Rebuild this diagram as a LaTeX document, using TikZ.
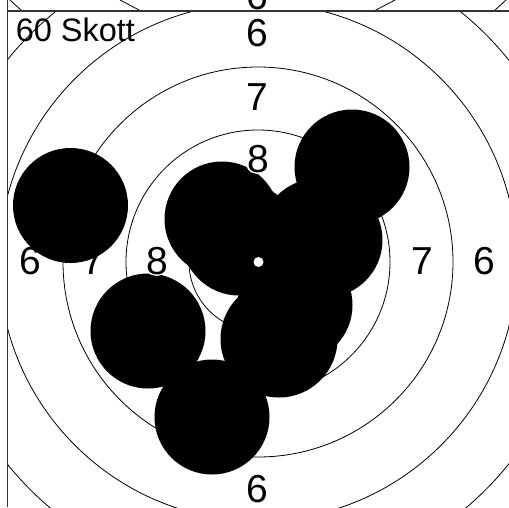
\documentclass[tikz,border=0pt]{standalone}
\usepackage{fontspec}
\setmainfont{Liberation Sans}
\begin{document}
\begin{tikzpicture}[x=1pt,y=-1pt,
  ring/.style={draw=black, line width=0.8pt},
  shot/.style={fill=black},
  lbl/.style={inner sep=0pt, font=\fontsize{39}{39}\selectfont},
  border/.style={draw=black!80, line width=1.6pt}]
\useasboundingbox (0,0) rectangle (509,507);
\fill[white] (0,0) rectangle (509,507);
% strip of the previous target
\begin{scope}
  \clip (0,0) rectangle (509,11);
  \draw[ring] (10,0) -- (22,11);
  \draw[ring] (120,0) -- (141,11);
  \draw[ring] (395,0) -- (374,11);
  \draw[ring] (506,0) -- (494,11);
  \node[lbl] (prevsix) at (257,-3.5) {6};
\end{scope}
% rings
\begin{scope}
  \clip (8,12) rectangle (509,507);
  \foreach \r in {69,132,195,259,322}
    \draw[ring] (258,262) circle[radius=\r pt];
\end{scope}
% ring labels
\node[lbl] (sixT) at (257,33) {6};
\node[lbl] (sevT) at (257.5,97.5) {7};
\node[lbl] (sixL) at (30,261) {6};
\node[lbl] (sevL) at (93,261) {7};
\node[lbl] (sevR) at (422,261) {7};
\node[lbl] (sixR) at (484,261) {6};
\node[lbl] (sixB) at (257,489) {6};
% shots
\foreach \x/\y in {70.5/205.5, 352/167, 148/331, 212/417, 222/219,
                   325/240, 295/305, 318/236, 239/238}
  \fill[shot] (\x,\y) circle[radius=57.5pt];
\fill[shot] (279,339) circle[radius=58.5pt];
% centre dot
\fill[white] (258.5,262) circle[radius=5pt];
% haloed 8 labels
\foreach \i in {0,...,15} {
  \node[lbl, text=white, xshift={1.4*cos(\i*22.5)}, yshift={1.4*sin(\i*22.5)}] (haloT\i) at (258,159) {8};
  \node[lbl, text=white, xshift={1.4*cos(\i*22.5)}, yshift={1.4*sin(\i*22.5)}] (haloL\i) at (157,261) {8};
}
\node[lbl] (eightT) at (258,159) {8};
\node[lbl] (eightL) at (157,261) {8};
% title
\node[inner sep=0pt, anchor=base west, font=\fontsize{32.5}{32.5}\selectfont] (title) at (15.6,41.5) {60 Skott};
% borders
\draw[border] (7.3,0) -- (7.3,507);
\draw[border] (7.3,11) -- (509,11);
\end{tikzpicture}
\end{document}
